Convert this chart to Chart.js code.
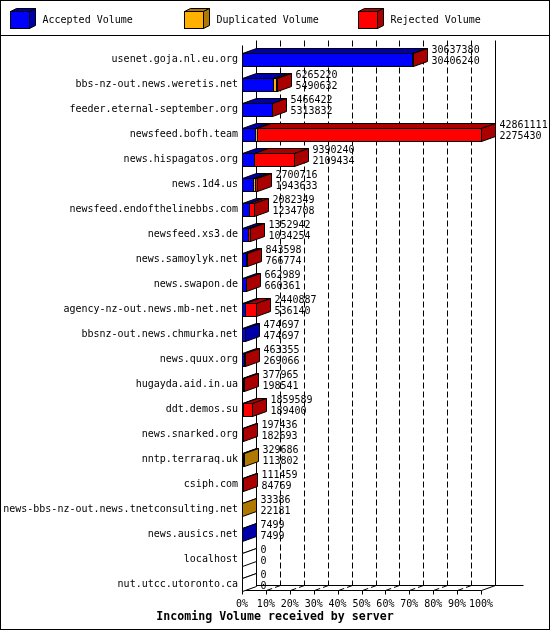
<!DOCTYPE html>
<html>
<head>
<meta charset="utf-8">
<script src="https://cdn.jsdelivr.net/npm/chart.js@4/dist/chart.umd.min.js"></script>
<style>
html,body{margin:0;padding:0;background:#fff;}
#wrap{width:550px;height:630px;position:relative;}
canvas{display:block;}
</style>
</head>
<body>
<div id="wrap"><canvas id="c" width="550" height="630"></canvas></div>
<script>
// ---- data ----
const categories = [
  'usenet.goja.nl.eu.org',
  'bbs-nz-out.news.weretis.net',
  'feeder.eternal-september.org',
  'newsfeed.bofh.team',
  'news.hispagatos.org',
  'news.1d4.us',
  'newsfeed.endofthelinebbs.com',
  'newsfeed.xs3.de',
  'news.samoylyk.net',
  'news.swapon.de',
  'agency-nz-out.news.mb-net.net',
  'bbsnz-out.news.chmurka.net',
  'news.quux.org',
  'hugayda.aid.in.ua',
  'ddt.demos.su',
  'news.snarked.org',
  'nntp.terraraq.uk',
  'csiph.com',
  'news-bbs-nz-out.news.tnetconsulting.net',
  'news.ausics.net',
  'localhost',
  'nut.utcc.utoronto.ca'
];
const totalVolume = [30637380, 6265220, 5466422, 42861111, 9390240, 2700716, 2082349, 1352942, 843598, 662989, 2440887, 474697, 463355, 377965, 1859589, 197436, 329686, 111459, 33386, 7499, 0, 0];
const acceptedVolume = [30406240, 5490632, 5313832, 2275430, 2109434, 1943633, 1234708, 1034254, 766774, 660361, 536140, 474697, 269066, 198541, 189400, 182693, 113802, 84769, 22181, 7499, 0, 0];
const duplicatedVolume = [0, 520000, 0, 360000, 0, 300000, 0, 0, 0, 0, 0, 0, 0, 0, 0, 0, 215884, 0, 11205, 0, 0, 0];
const rejectedVolume = [231140, 254588, 152590, 40225681, 7280806, 457083, 847641, 318688, 76824, 2628, 1904747, 0, 194289, 179424, 1670189, 14743, 0, 26690, 0, 0, 0, 0];
const seriesNames = ['Accepted Volume', 'Duplicated Volume', 'Rejected Volume'];
const xTickLabels = ['0%', '10%', '20%', '30%', '40%', '50%', '60%', '70%', '80%', '90%', '100%'];
const chartTitle = 'Incoming Volume received by server';

// ---- styles ----
const FRONT = ['#0000FF', '#FFB000', '#FF0000'];
const DARK = ['#0000AA', '#B07800', '#AA0000'];
const DX = 14, DY = 5, BAR_H = 13;
const MONO = '"DejaVu Sans Mono", "Liberation Mono", monospace';

const maxTotal = Math.max(...totalVolume);
const toPct = arr => arr.map(v => v / maxTotal * 100);
const seriesValues = [acceptedVolume, duplicatedVolume, rejectedVolume];

function poly(ctx, pts, fill) {
  ctx.beginPath();
  ctx.moveTo(pts[0][0], pts[0][1]);
  for (let k = 1; k < pts.length; k++) ctx.lineTo(pts[k][0], pts[k][1]);
  ctx.closePath();
  if (fill) { ctx.fillStyle = fill; ctx.fill(); }
  ctx.stroke();
}
function line(ctx, pts) {
  ctx.beginPath();
  ctx.moveTo(pts[0][0], pts[0][1]);
  for (let k = 1; k < pts.length; k++) ctx.lineTo(pts[k][0], pts[k][1]);
  ctx.stroke();
}

const threeD = {
  id: 'threeD',
  beforeDraw(chart) {
    const ctx = chart.ctx;
    ctx.save();
    ctx.fillStyle = '#fff';
    ctx.fillRect(0, 0, chart.width, chart.height);
    ctx.strokeStyle = '#000';
    ctx.lineWidth = 1;
    ctx.strokeRect(0.5, 0.5, chart.width - 1, chart.height - 1);
    line(ctx, [[0, 35.5], [chart.width, 35.5]]);
    // legend
    const LX = [10, 184, 358];
    ctx.font = '10px ' + MONO;
    ctx.textBaseline = 'middle';
    ctx.textAlign = 'left';
    for (let i = 0; i < seriesNames.length; i++) {
      const bx = LX[i] + 0.5, by = 11.5, w = 19, h = 17, dx = 6, dy = 3;
      ctx.fillStyle = FRONT[i];
      ctx.fillRect(bx, by, w, h);
      ctx.strokeRect(bx, by, w, h);
      poly(ctx, [[bx, by], [bx + dx, by - dy], [bx + w + dx, by - dy], [bx + w, by]], DARK[i]);
      poly(ctx, [[bx + w, by], [bx + w + dx, by - dy], [bx + w + dx, by + h - dy], [bx + w, by + h]], DARK[i]);
      ctx.fillStyle = '#000';
      ctx.fillText(seriesNames[i], bx + 32, 20.5);
    }
    ctx.restore();
  },
  beforeDatasetsDraw(chart) {
    const ctx = chart.ctx, xs = chart.scales.x, ys = chart.scales.y;
    const fx = v => Math.round(xs.getPixelForValue(v)) + 0.5;
    const x0 = fx(0), x100 = fx(100);
    const wallTop = Math.round(chart.chartArea.top) - 7 + 0.5;
    const floorY = Math.round(ys.getPixelForValue(categories.length - 1) + 5.5) + 0.5;
    ctx.save();
    ctx.strokeStyle = '#000';
    ctx.lineWidth = 1;
    // dashed back-wall grid lines and floor diagonals
    ctx.setLineDash([6, 3]);
    for (let k = 1; k < xTickLabels.length - 1; k++) {
      const f = fx(k * 10);
      line(ctx, [[f + DX, wallTop], [f + DX, floorY - DY]]);
      line(ctx, [[f, floorY], [f + DX, floorY - DY]]);
    }
    ctx.setLineDash([]);
    // back-left axis, right wall, back floor line
    line(ctx, [[x0 + DX, wallTop], [x0 + DX, floorY - DY]]);
    line(ctx, [[x100 + DX, wallTop], [x100 + DX, floorY - DY]]);
    line(ctx, [[x0 + DX, floorY - DY], [x100 + DX + 28, floorY - DY]]);
    // front axis and floor
    line(ctx, [[x0, wallTop + DY], [x0, floorY]]);
    line(ctx, [[x0, floorY], [x100, floorY]]);
    line(ctx, [[x0, floorY], [x0 + DX, floorY - DY]]);
    line(ctx, [[x100, floorY], [x100 + DX, floorY - DY]]);
    // tick marks
    for (let k = 0; k < xTickLabels.length; k++) {
      const f = fx(k * 10);
      line(ctx, [[f, floorY], [f, floorY + 4]]);
    }
    ctx.restore();
  },
  afterDatasetsDraw(chart) {
    const ctx = chart.ctx;
    const metas = [0, 1, 2].map(i => chart.getDatasetMeta(i));
    ctx.save();
    ctx.strokeStyle = '#000';
    ctx.lineWidth = 1;
    for (let j = 0; j < categories.length; j++) {
      const segs = metas.map((m, i) => {
        const p = m.data[j].getProps(['x', 'y', 'base'], true);
        return { a: Math.round(Math.min(p.x, p.base)) + 0.5, b: Math.round(Math.max(p.x, p.base)) + 0.5, y: p.y, i };
      });
      const yc = segs[0].y;
      const y0 = Math.round(yc - BAR_H / 2) + 0.5, y1 = y0 + BAR_H;
      let lastIdx = -1;
      seriesValues.forEach((arr, i) => { if (arr[j] > 0) lastIdx = i; });
      const start = segs[0].a;
      let end = start;
      segs.forEach(s => { if (s.b > end) end = s.b; });
      // front faces
      segs.forEach(s => {
        if (s.b > s.a) {
          ctx.fillStyle = FRONT[s.i];
          ctx.fillRect(s.a, y0, s.b - s.a, BAR_H);
          ctx.strokeRect(s.a, y0, s.b - s.a, BAR_H);
        }
      });
      // top faces
      let anyTop = false;
      segs.forEach(s => {
        if (s.b > s.a) {
          anyTop = true;
          poly(ctx, [[s.a, y0], [s.a + DX, y0 - DY], [s.b + DX, y0 - DY], [s.b, y0]], DARK[s.i]);
        }
      });
      if (!anyTop) line(ctx, [[start, y0], [start + DX, y0 - DY]]);
      // side face
      poly(ctx, [[end, y0], [end + DX, y0 - DY], [end + DX, y1 - DY], [end, y1]], lastIdx >= 0 ? DARK[lastIdx] : '#fff');
      // value labels
      ctx.fillStyle = '#000';
      ctx.font = '10px ' + MONO;
      ctx.textAlign = 'left';
      ctx.textBaseline = 'middle';
      ctx.fillText(String(totalVolume[j]), end + DX + 4, y0 - 3);
      ctx.fillText(String(acceptedVolume[j]), end + DX + 4, y0 + 8);
    }
    ctx.restore();
  }
};

new Chart(document.getElementById('c'), {
  type: 'bar',
  data: {
    labels: categories,
    datasets: seriesNames.map((name, i) => ({
      label: name,
      data: toPct(seriesValues[i]),
      backgroundColor: 'rgba(0,0,0,0)',
      borderWidth: 0,
      barThickness: BAR_H
    }))
  },
  options: {
    indexAxis: 'y',
    responsive: false,
    animation: false,
    devicePixelRatio: 1,
    layout: { padding: { top: 47, right: 0, left: 0, bottom: 0 } },
    scales: {
      x: {
        type: 'linear',
        stacked: true,
        min: 0,
        max: 100,
        grid: { display: false, drawTicks: false },
        border: { display: false },
        afterBuildTicks: s => { s.ticks = xTickLabels.map((t, k) => ({ value: k * 10 })); },
        afterFit: s => { s.height = 13; s.paddingLeft = 0; s.paddingRight = 0; },
        ticks: {
          autoSkip: false,
          maxRotation: 0,
          padding: 1,
          color: '#000',
          font: { family: MONO, size: 10 },
          callback: (v, k) => xTickLabels[k]
        }
      },
      y: {
        stacked: true,
        grid: { display: false, drawTicks: false },
        border: { display: false },
        afterFit: s => { s.width = 242; s.paddingTop = 0; s.paddingBottom = 0; },
        ticks: {
          autoSkip: false,
          padding: 4,
          color: '#000',
          font: { family: MONO, size: 10 }
        }
      },
      yRight: {
        type: 'category',
        position: 'right',
        display: true,
        grid: { display: false, drawTicks: false },
        border: { display: false },
        ticks: { display: false },
        afterFit: s => { s.width = 69; s.paddingTop = 0; s.paddingBottom = 0; }
      }
    },
    plugins: {
      legend: { display: false },
      tooltip: { enabled: false },
      title: {
        display: true,
        position: 'bottom',
        text: chartTitle,
        color: '#000',
        font: { family: MONO, size: 11.6, weight: 'bold' },
        padding: { top: 0, bottom: 6 }
      }
    }
  },
  plugins: [threeD]
});
</script>
</body>
</html>
